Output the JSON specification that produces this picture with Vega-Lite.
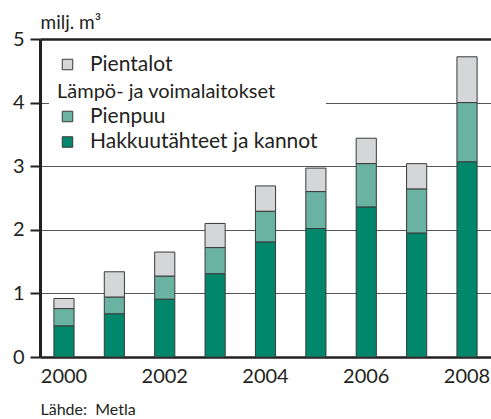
{
  "$schema": "https://vega.github.io/schema/vega-lite/v6.json",
  "width": 451,
  "height": 318,
  "autosize": "none",
  "padding": {"left": 40, "top": 39, "right": 0, "bottom": 62},
  "background": "white",
  "config": {
    "font": "Lato",
    "view": {"stroke": null},
    "legend": {
      "labelFont": "Lato", "labelFontSize": 21, "labelColor": "#231f20", "labelLimit": 400,
      "titleFont": "Lato", "titleFontSize": 20, "titleFontWeight": "normal", "titleColor": "#231f20", "titleLimit": 400,
      "symbolType": "square", "symbolSize": 110, "symbolStrokeColor": "#3a3a3a", "symbolStrokeWidth": 1,
      "symbolOpacity": 1, "labelOffset": 12, "rowPadding": 3.5, "titlePadding": 4,
      "fillColor": "white", "strokeColor": null
    }
  },
  "data": {
    "values": [
      {"year": 2000, "category": "Hakkuutähteet ja kannot", "value": 0.49},
      {"year": 2000, "category": "Pienpuu", "value": 0.27},
      {"year": 2000, "category": "Pientalot", "value": 0.16},
      {"year": 2001, "category": "Hakkuutähteet ja kannot", "value": 0.68},
      {"year": 2001, "category": "Pienpuu", "value": 0.26},
      {"year": 2001, "category": "Pientalot", "value": 0.40},
      {"year": 2002, "category": "Hakkuutähteet ja kannot", "value": 0.91},
      {"year": 2002, "category": "Pienpuu", "value": 0.36},
      {"year": 2002, "category": "Pientalot", "value": 0.38},
      {"year": 2003, "category": "Hakkuutähteet ja kannot", "value": 1.31},
      {"year": 2003, "category": "Pienpuu", "value": 0.41},
      {"year": 2003, "category": "Pientalot", "value": 0.38},
      {"year": 2004, "category": "Hakkuutähteet ja kannot", "value": 1.81},
      {"year": 2004, "category": "Pienpuu", "value": 0.48},
      {"year": 2004, "category": "Pientalot", "value": 0.40},
      {"year": 2005, "category": "Hakkuutähteet ja kannot", "value": 2.02},
      {"year": 2005, "category": "Pienpuu", "value": 0.58},
      {"year": 2005, "category": "Pientalot", "value": 0.37},
      {"year": 2006, "category": "Hakkuutähteet ja kannot", "value": 2.36},
      {"year": 2006, "category": "Pienpuu", "value": 0.68},
      {"year": 2006, "category": "Pientalot", "value": 0.40},
      {"year": 2007, "category": "Hakkuutähteet ja kannot", "value": 1.95},
      {"year": 2007, "category": "Pienpuu", "value": 0.69},
      {"year": 2007, "category": "Pientalot", "value": 0.40},
      {"year": 2008, "category": "Hakkuutähteet ja kannot", "value": 3.07},
      {"year": 2008, "category": "Pienpuu", "value": 0.93},
      {"year": 2008, "category": "Pientalot", "value": 0.72}
    ]
  },
  "transform": [
    {"stack": "value", "groupby": ["year"], "sort": [{"field": "category", "order": "ascending"}], "as": ["y0", "y1"]}
  ],
  "encoding": {
    "x": {
      "field": "year", "type": "ordinal",
      "scale": {"paddingInner": 0.6, "paddingOuter": 0.276},
      "axis": {
        "labelExpr": "datum.value % 2 == 0 ? datum.label : ''",
        "labelAngle": 0, "labelFont": "Lato", "labelFontSize": 20, "labelColor": "#231f20",
        "labelPadding": 9, "ticks": false, "domainColor": "#231f20", "domainWidth": 2.5,
        "title": "Lähde:\u00a0 Metla", "titleFont": "Lato", "titleFontSize": 16, "titleFontWeight": "normal",
        "titleColor": "#231f20", "titleAnchor": "start", "titleAlign": "left", "titleBaseline": "alphabetic",
        "titleX": 0, "titleY": 57
      }
    },
    "y": {
      "field": "y0", "type": "quantitative",
      "scale": {"domain": [0, 5], "nice": false},
      "axis": {
        "values": [0, 1, 2, 3, 4, 5], "labelFont": "Lato", "labelFontSize": 20, "labelColor": "#231f20",
        "labelPadding": 6, "tickSize": 10, "tickWidth": 2, "tickColor": "#231f20",
        "domainColor": "#231f20", "domainWidth": 3,
        "grid": true,
        "gridColor": {"condition": {"test": "datum.value == 5", "value": "#231f20"}, "value": "#555555"},
        "gridWidth": {"condition": {"test": "datum.value == 5", "value": 2.5}, "value": 1},
        "title": "milj. m³", "titleFont": "Lato", "titleFontSize": 19, "titleFontWeight": "normal",
        "titleColor": "#231f20", "titleAngle": 0, "titleAlign": "left", "titleBaseline": "alphabetic",
        "titleX": 0, "titleY": -11
      }
    },
    "y2": {"field": "y1"}
  },
  "layer": [
    {
      "transform": [{"filter": "datum.category == 'Pientalot'"}],
      "mark": {"type": "bar", "stroke": "#3a3a3a", "strokeWidth": 1},
      "encoding": {
        "color": {
          "field": "category", "type": "nominal",
          "scale": {"domain": ["Pientalot"], "range": ["#d5d6d8"]},
          "legend": {"title": null, "orient": "none", "legendX": 17, "legendY": 15, "padding": 0}
        }
      }
    },
    {
      "transform": [{"filter": "datum.category != 'Pientalot'"}],
      "mark": {"type": "bar", "stroke": "#3a3a3a", "strokeWidth": 1},
      "encoding": {
        "color": {
          "field": "category", "type": "nominal",
          "scale": {"domain": ["Pienpuu", "Hakkuutähteet ja kannot"], "range": ["#6ab2a2", "#00876c"]},
          "legend": {"title": "Lämpö- ja voimalaitokset", "orient": "none", "legendX": 9, "legendY": 35, "padding": 8}
        }
      }
    }
  ],
  "resolve": {"scale": {"color": "independent"}, "legend": {"color": "independent"}}
}
